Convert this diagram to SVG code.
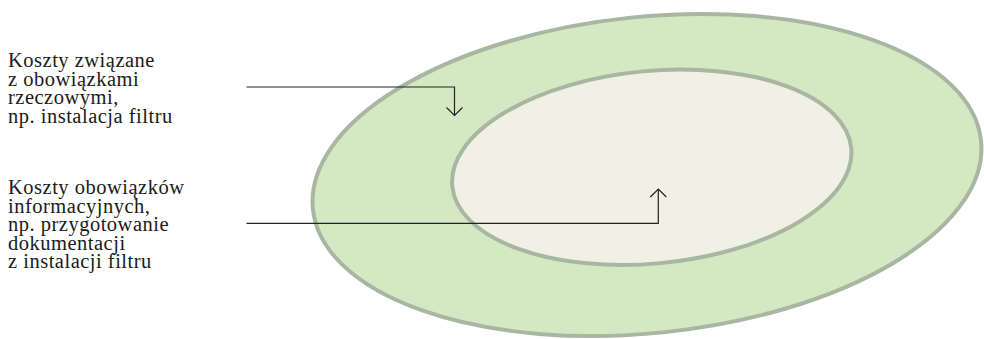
<svg xmlns="http://www.w3.org/2000/svg" width="984" height="339" viewBox="0 0 984 339">
<defs>
<style>
.ell{stroke:#a9b7a2;stroke-width:4}
.lbl{font-family:"Liberation Serif","DejaVu Serif",serif;font-size:20.5px;letter-spacing:0.5px;fill:#1a1a1a}
.conn{fill:none;stroke:#222;stroke-width:1.2}
</style>
<marker id="chev" viewBox="0 0 12 20" refX="10" refY="10" markerWidth="12" markerHeight="20" markerUnits="userSpaceOnUse" orient="auto">
<path d="M2,2 L10,10 L2,18" fill="none" stroke="#222" stroke-width="1.2"/>
</marker>
</defs>
<rect width="984" height="339" fill="#ffffff"/>
<g id="outer">
<ellipse class="ell" cx="647" cy="175" rx="335.8" ry="158.2" fill="#d4e8c3" transform="rotate(-5.83 647 175)"/>
</g>
<g id="inner">
<ellipse class="ell" cx="651.75" cy="167.25" rx="200.4" ry="96.3" fill="#f0f0e5" transform="rotate(-5.41 651.75 167.25)"/>
</g>
<g id="label1">
<text class="lbl" x="8" y="67">Koszty związane</text>
<text class="lbl" x="8" y="85.5">z obowiązkami</text>
<text class="lbl" x="8" y="104">rzeczowymi,</text>
<text class="lbl" x="8" y="122.5">np. instalacja filtru</text>
</g>
<g id="label2">
<text class="lbl" x="8" y="194">Koszty obowiązków</text>
<text class="lbl" x="8" y="212.5">informacyjnych,</text>
<text class="lbl" x="8" y="231">np. przygotowanie</text>
<text class="lbl" x="8" y="249.5">dokumentacji</text>
<text class="lbl" x="8" y="268">z instalacji filtru</text>
</g>
<g id="connectors">
<path class="conn" d="M246.5,87 H454.5 V115.5" marker-end="url(#chev)"/>
<path class="conn" d="M246.5,223.3 H658.3 V189" marker-end="url(#chev)"/>
</g>
</svg>
